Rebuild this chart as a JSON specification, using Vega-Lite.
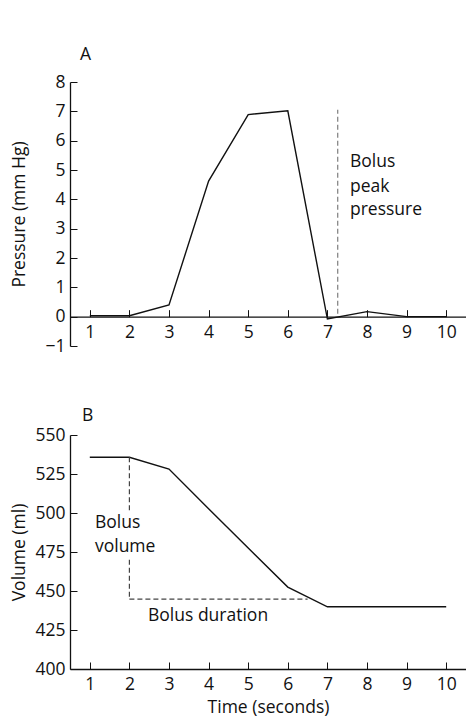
{
  "$schema": "https://vega.github.io/schema/vega-lite/v6.json",
  "padding": {"top": 45, "left": 10, "right": 0, "bottom": 0},
  "config": {
    "font": "Open Sans",
    "view": {"stroke": null},
    "axis": {
      "grid": false,
      "domainColor": "#111",
      "domainWidth": 1.3,
      "tickColor": "#111",
      "tickWidth": 1,
      "tickSize": -7,
      "tickCount": 20,
      "format": "d",
      "labelColor": "#111",
      "titleColor": "#111",
      "labelFontSize": 17.5,
      "titleFontSize": 17.5,
      "titleFontWeight": "normal",
      "labelFont": "Open Sans",
      "titleFont": "Open Sans",
      "labelOverlap": false
    },
    "title": {"fontSize": 17.5, "fontWeight": "normal", "color": "#111", "anchor": "start", "font": "Open Sans", "frame": "group"}
  },
  "datasets": {
    "pressure": [
      {"t": 1, "p": 0.03}, {"t": 2, "p": 0.03}, {"t": 3, "p": 0.4}, {"t": 4, "p": 4.62},
      {"t": 5, "p": 6.89}, {"t": 6, "p": 7.02}, {"t": 7, "p": -0.08}, {"t": 8, "p": 0.17},
      {"t": 9, "p": 0.0}, {"t": 10, "p": 0.0}
    ],
    "volume": [
      {"t": 1, "v": 535.7}, {"t": 2, "v": 535.7}, {"t": 3, "v": 528.2}, {"t": 4, "v": 502.7},
      {"t": 5, "v": 477.5}, {"t": 6, "v": 452.5}, {"t": 7, "v": 439.9}, {"t": 8, "v": 439.9},
      {"t": 9, "v": 439.9}, {"t": 10, "v": 439.9}
    ],
    "peakRule": [{"t1": 7.26, "t2": 7.26, "p1": 0.1, "p2": 7.05}],
    "peakText": [
      {"t": 7.57, "p": 5.27, "label": "Bolus"},
      {"t": 7.57, "p": 4.41, "label": "peak"},
      {"t": 7.57, "p": 3.62, "label": "pressure"}
    ],
    "volRules": [
      {"t1": 2, "t2": 2, "v1": 535.7, "v2": 501.5},
      {"t1": 2, "t2": 2, "v1": 470, "v2": 444.8},
      {"t1": 2, "t2": 6.5, "v1": 444.8, "v2": 444.8}
    ],
    "volText": [
      {"t": 1.13, "v": 493.9, "label": "Bolus"},
      {"t": 1.13, "v": 478.5, "label": "volume"},
      {"t": 2.47, "v": 434.1, "label": "Bolus duration"}
    ]
  },
  "spacing": 51,
  "vconcat": [
    {
      "width": 396,
      "height": 264,
      "title": {"text": "A", "dx": 10, "offset": 10},
      "layer": [
        {
          "data": {"name": "pressure"},
          "mark": {"type": "line", "color": "#111", "strokeWidth": 1.4},
          "encoding": {
            "x": {"field": "t", "type": "quantitative", "scale": {"domain": [0.5, 10.5], "nice": false},
                  "axis": {"title": null, "values": [1,2,3,4,5,6,7,8,9,10], "tickCount": 20, "format": "d", "offset": -29.33, "labelPadding": 14, "labelOverlap": false}},
            "y": {"field": "p", "type": "quantitative", "scale": {"domain": [-1, 8], "nice": false},
                  "axis": {"title": "Pressure (mm Hg)", "values": [-1,0,1,2,3,4,5,6,7,8], "tickCount": 20, "format": "d", "labelPadding": 12, "titlePadding": 16, "labelOverlap": false}}
          }
        },
        {
          "data": {"name": "peakRule"},
          "mark": {"type": "rule", "color": "#888", "strokeWidth": 1.3, "strokeDash": [5, 3]},
          "encoding": {
            "x": {"field": "t1", "type": "quantitative"},
            "x2": {"field": "t2"},
            "y": {"field": "p1", "type": "quantitative"},
            "y2": {"field": "p2"}
          }
        },
        {
          "data": {"name": "peakText"},
          "mark": {"type": "text", "align": "left", "baseline": "middle", "fontSize": 17.5, "color": "#111"},
          "encoding": {
            "x": {"field": "t", "type": "quantitative"},
            "y": {"field": "p", "type": "quantitative"},
            "text": {"field": "label"}
          }
        }
      ]
    },
    {
      "width": 396,
      "height": 234,
      "title": {"text": "B", "dx": 12, "offset": 2},
      "layer": [
        {
          "data": {"name": "volume"},
          "mark": {"type": "line", "color": "#111", "strokeWidth": 1.4},
          "encoding": {
            "x": {"field": "t", "type": "quantitative", "scale": {"domain": [0.5, 10.5], "nice": false},
                  "axis": {"title": "Time (seconds)", "values": [1,2,3,4,5,6,7,8,9,10], "tickCount": 20, "format": "d", "labelPadding": 13, "titlePadding": 6, "labelOverlap": false}},
            "y": {"field": "v", "type": "quantitative", "scale": {"domain": [400, 550], "nice": false, "zero": false},
                  "axis": {"title": "Volume (ml)", "values": [400,425,450,475,500,525,550], "tickCount": 20, "format": "d", "labelPadding": 12, "titlePadding": 6, "labelOverlap": false}}
          }
        },
        {
          "data": {"name": "volRules"},
          "mark": {"type": "rule", "color": "#444", "strokeWidth": 1.2, "strokeDash": [5, 3]},
          "encoding": {
            "x": {"field": "t1", "type": "quantitative"},
            "x2": {"field": "t2"},
            "y": {"field": "v1", "type": "quantitative"},
            "y2": {"field": "v2"}
          }
        },
        {
          "data": {"name": "volText"},
          "mark": {"type": "text", "align": "left", "baseline": "middle", "fontSize": 17.5, "color": "#111"},
          "encoding": {
            "x": {"field": "t", "type": "quantitative"},
            "y": {"field": "v", "type": "quantitative"},
            "text": {"field": "label"}
          }
        }
      ]
    }
  ]
}
